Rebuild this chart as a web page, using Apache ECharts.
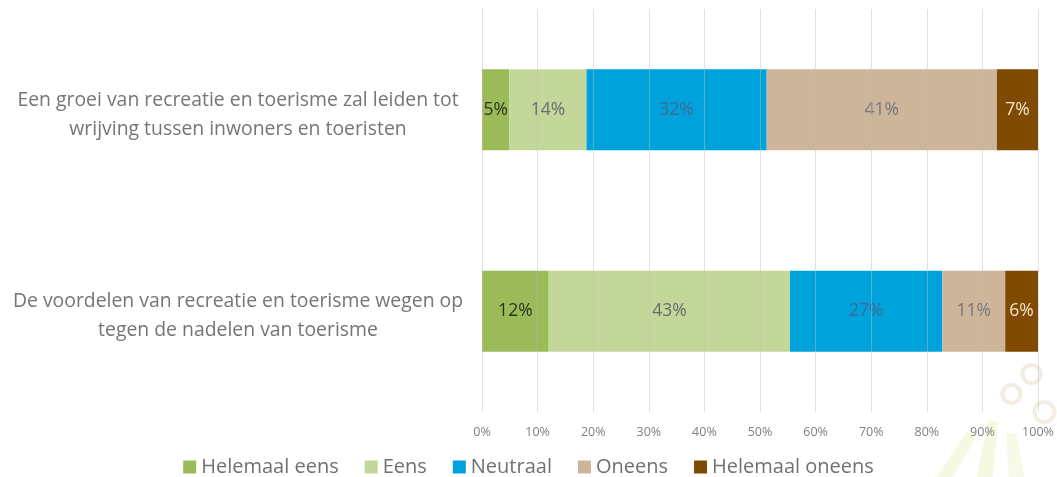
<!DOCTYPE html>
<html>
<head>
<meta charset="utf-8">
<script src="https://cdn.jsdelivr.net/npm/echarts@6/dist/echarts.min.js"></script>
<style>
  html, body { margin: 0; padding: 0; background: #fff; }
  #chart { width: 1057px; height: 477px; }
</style>
</head>
<body>
<div id="chart"></div>
<script>
// stellingen (van boven naar beneden)
const categories = [
  'Een groei van recreatie en toerisme zal leiden tot\nwrijving tussen inwoners en toeristen',
  'De voordelen van recreatie en toerisme wegen op\ntegen de nadelen van toerisme'
];
const seriesNames = ['Helemaal eens', 'Eens', 'Neutraal', 'Oneens', 'Helemaal oneens'];
// percentages per antwoord, per stelling
const helemaalEens = [4.9, 12.0];
const eens = [13.9, 43.4];
const neutraal = [32.4, 27.4];
const oneens = [41.4, 11.3];
const helemaalOneens = [7.4, 5.9];
const tickLabels = ['0%', '10%', '20%', '30%', '40%', '50%', '60%', '70%', '80%', '90%', '100%'];

const colors = ['#9bbb59', '#c4d79b', '#00a2dc', '#cdb599', '#7f4a02'];
const labelColors = ['#2a3320', '#6b6b6b', '#3f6796', '#777777', '#f2e2cc'];
const values = [helemaalEens, eens, neutraal, oneens, helemaalOneens];

const chart = echarts.init(document.getElementById('chart'));
const font = 'Open Sans';

const option = {
  animation: false,
  textStyle: { fontFamily: font },
  grid: { left: 482, right: 19, top: 9, bottom: 65 },
  legend: {
    top: 452,
    left: 'center',
    itemWidth: 13,
    itemHeight: 13,
    itemGap: 26,
    icon: 'rect',
    textStyle: { fontFamily: font, fontSize: 20, color: '#707070' },
    data: seriesNames
  },
  xAxis: {
    type: 'value',
    min: 0,
    max: 100,
    interval: 10,
    z: 10,
    axisLine: { show: false },
    axisTick: { show: false },
    splitLine: { show: true, lineStyle: { color: 'rgba(190,190,190,0.45)', width: 1 } },
    axisLabel: {
      margin: 14,
      fontSize: 12.5,
      color: '#7f7f7f',
      formatter: (v) => tickLabels[Math.round(v / 10)]
    }
  },
  yAxis: {
    type: 'category',
    inverse: true,
    data: categories,
    axisLine: { show: false },
    axisTick: { show: false },
    axisLabel: {
      margin: 244,
      align: 'center',
      // small empty first line pushes the text a bit below the bar centre
      formatter: (v) => '{s| }\n' + v.split('\n').map(l => '{t|' + l + '}').join('\n'),
      rich: {
        s: { fontSize: 4, lineHeight: 10 },
        t: { fontSize: 19.4, lineHeight: 29, color: '#757575', fontFamily: font }
      }
    }
  },
  series: seriesNames.map((name, i) => ({
    name: name,
    type: 'bar',
    stack: 'total',
    barWidth: 81,
    data: values[i],
    itemStyle: { color: colors[i] },
    label: {
      show: true,
      position: 'inside',
      fontSize: 17.5,
      color: labelColors[i],
      formatter: (p) => Math.round(p.value) + '%'
    }
  })),
  graphic: [
    {
      type: 'group',
      right: 0,
      bottom: 0,
      silent: true,
      children: [
        { type: 'circle', shape: { cx: 95, cy: 12, r: 9 }, style: { fill: 'none', stroke: 'rgba(220,200,175,0.35)', lineWidth: 4 } },
        { type: 'circle', shape: { cx: 75, cy: 32, r: 9 }, style: { fill: 'none', stroke: 'rgba(220,200,175,0.35)', lineWidth: 4 } },
        { type: 'circle', shape: { cx: 108, cy: 50, r: 10 }, style: { fill: 'none', stroke: 'rgba(220,200,175,0.3)', lineWidth: 4 } },
        { type: 'polygon', shape: { points: [[0, 115], [30, 70], [42, 72], [16, 115]] }, style: { fill: 'rgba(215,230,140,0.25)' } },
        { type: 'polygon', shape: { points: [[40, 115], [52, 58], [62, 60], [56, 115]] }, style: { fill: 'rgba(215,230,140,0.25)' } },
        { type: 'polygon', shape: { points: [[72, 115], [70, 70], [80, 72], [88, 115]] }, style: { fill: 'rgba(215,230,140,0.22)' } }
      ]
    }
  ]
};

chart.setOption(option);
</script>
</body>
</html>
